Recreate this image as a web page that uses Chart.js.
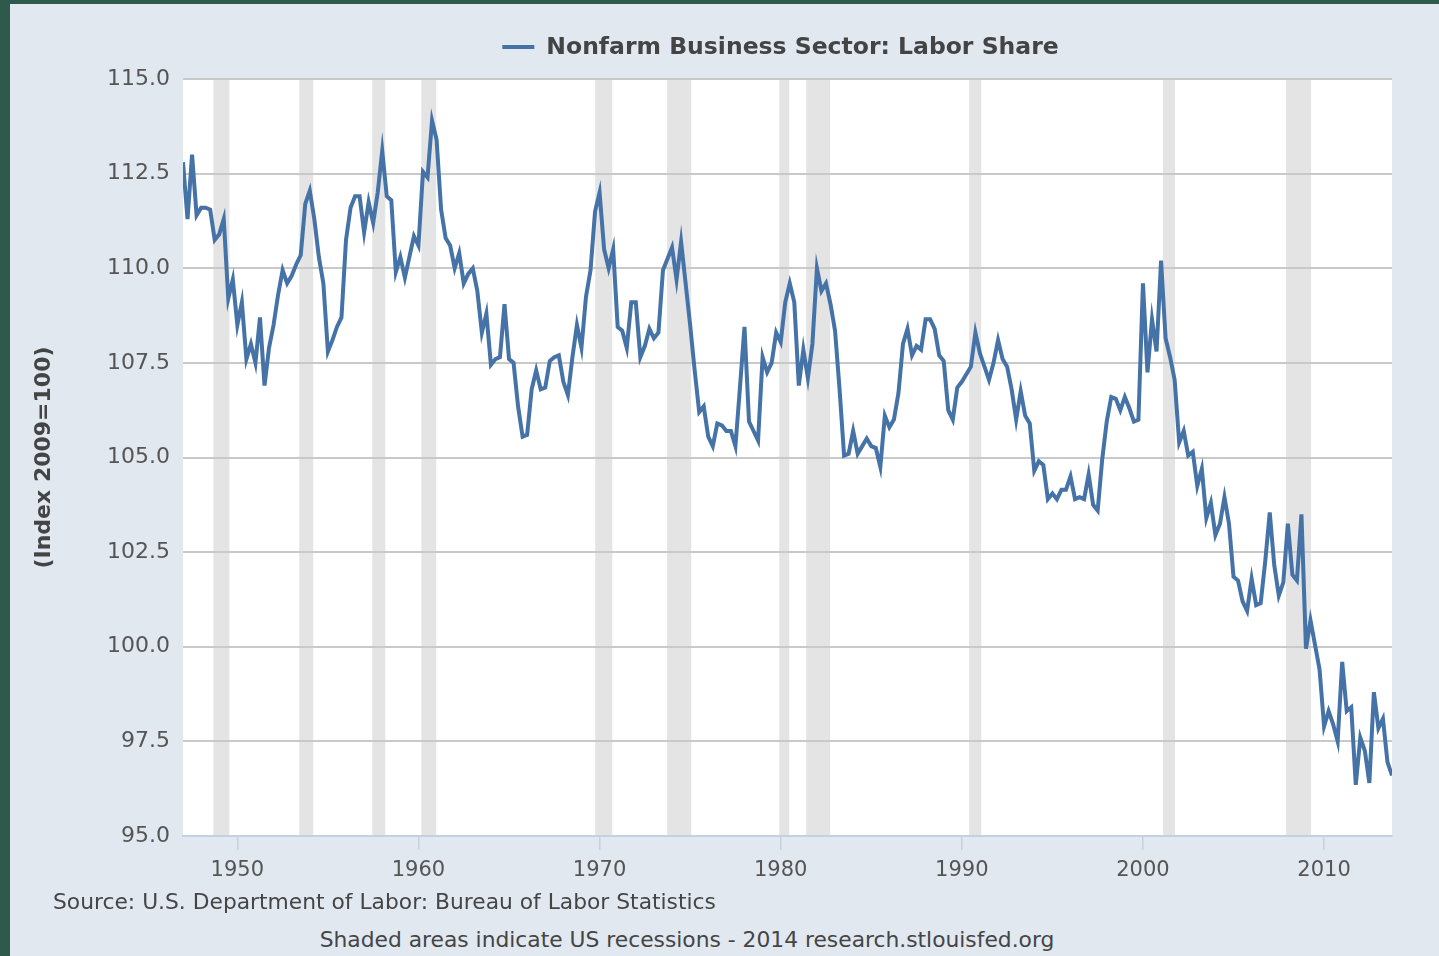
<!DOCTYPE html>
<html>
<head>
<meta charset="utf-8">
<title>Nonfarm Business Sector: Labor Share</title>
<script src="https://cdn.jsdelivr.net/npm/chart.js@4.4.1/dist/chart.umd.min.js"></script>
<style>
  html, body { margin: 0; padding: 0; }
  body { width: 1439px; height: 956px; background: #2d5a4b; overflow: hidden; position: relative; font-family: "DejaVu Sans", Verdana, sans-serif; }
  #panel { position: absolute; left: 10px; top: 4px; right: 0; bottom: 0; background: #e1e8f0; }
  #myChart { position: absolute; left: 0; top: 0; }
  .note { position: absolute; color: #454545; font-size: 21.8px; white-space: nowrap; line-height: 26px; }
  #source { left: 53px; top: 889px; }
  #shaded { left: 687px; top: 927px; transform: translateX(-50%); }
</style>
</head>
<body>
<div id="panel"></div>
<canvas id="myChart" width="1439" height="900"></canvas>
<div class="note" id="source">Source: U.S. Department of Labor: Bureau of Labor Statistics</div>
<div class="note" id="shaded">Shaded areas indicate US recessions - 2014 research.stlouisfed.org</div>
<script>
// quarterly values, first quarter 1947Q1
var firstYear = 1947;
var labor1940s = [112.8, 111.3, 113.0, 111.4, 111.6, 111.6, 111.55, 110.75, 110.9, 111.3, 109.2, 109.7];
var labor1950s = [108.5, 109.1, 107.6, 108.0, 107.5, 108.7, 106.9, 107.9, 108.5, 109.3,
    109.95, 109.6, 109.8, 110.1, 110.35, 111.7, 112.05, 111.3, 110.3, 109.6,
    107.8, 108.1, 108.45, 108.7, 110.75, 111.6, 111.9, 111.9, 110.95, 111.75,
    111.2, 112.0, 113.1, 111.9, 111.8, 109.9, 110.3, 109.75, 110.3, 110.85];
var labor1960s = [110.6, 112.55, 112.4, 113.9, 113.4, 111.55, 110.8, 110.6, 110.0, 110.4,
    109.6, 109.85, 110.0, 109.4, 108.3, 108.8, 107.45, 107.6, 107.65, 109.05,
    107.6, 107.5, 106.35, 105.55, 105.6, 106.8, 107.3, 106.8, 106.85, 107.55,
    107.65, 107.7, 107.0, 106.65, 107.65, 108.5, 107.9, 109.25, 109.95, 111.5];
var labor1970s = [112.0, 110.5, 110.0, 110.5, 108.45, 108.35, 107.9, 109.1, 109.1, 107.65,
    107.95, 108.4, 108.15, 108.3, 109.95, 110.25, 110.55, 109.7, 110.7, 109.6,
    108.5, 107.3, 106.2, 106.35, 105.55, 105.3, 105.9, 105.85, 105.7, 105.7,
    105.3, 106.85, 108.45, 105.95, 105.7, 105.45, 107.65, 107.25, 107.5, 108.3];
var labor1980s = [108.05, 109.1, 109.6, 109.1, 106.9, 107.85, 107.1, 108.0, 110.0, 109.4,
    109.6, 109.05, 108.35, 106.8, 105.05, 105.1, 105.7, 105.1, 105.3, 105.5,
    105.3, 105.25, 104.75, 106.1, 105.8, 106.0, 106.7, 108.0, 108.4, 107.7,
    107.95, 107.85, 108.65, 108.65, 108.4, 107.7, 107.55, 106.25, 106.0, 106.85];
var labor1990s = [107.0, 107.2, 107.4, 108.3, 107.75, 107.4, 107.05, 107.5, 108.1, 107.6,
    107.4, 106.8, 106.0, 106.75, 106.1, 105.9, 104.65, 104.9, 104.8, 103.9,
    104.05, 103.9, 104.15, 104.15, 104.5, 103.9, 103.95, 103.9, 104.55, 103.75,
    103.6, 104.95, 105.95, 106.6, 106.55, 106.25, 106.6, 106.3, 105.95, 106.0];
var labor2000s = [109.6, 107.25, 108.65, 107.8, 110.2, 108.15, 107.65, 107.05, 105.4, 105.7,
    105.05, 105.15, 104.25, 104.7, 103.4, 103.8, 102.95, 103.25, 103.95, 103.25,
    101.85, 101.75, 101.2, 100.95, 101.8, 101.1, 101.15, 102.25, 103.55, 102.15,
    101.35, 101.7, 103.25, 101.9, 101.75, 103.5, 99.95, 100.7, 100.05, 99.4];
var labor2010s = [97.9, 98.3, 97.95, 97.5, 99.6, 98.3, 98.4, 96.35, 97.6, 97.25,
    96.4, 98.8, 97.85, 98.1, 96.95, 96.6];

var recessionStart = [1948.68, 1953.42, 1957.45, 1960.16, 1969.76, 1973.73, 1979.92, 1981.41, 1990.40, 2001.11, 2007.90];
var recessionEnd = [1949.56, 1954.19, 1958.17, 1960.98, 1970.70, 1975.06, 1980.47, 1982.73, 1991.07, 2001.77, 2009.28];

var xTicks = [1950, 1960, 1970, 1980, 1990, 2000, 2010];
var yMin = 95, yMax = 115, yStep = 2.5;

var seriesName = 'Nonfarm Business Sector: Labor Share';
var axisTitle = '(Index 2009=100)';

var allValues = labor1940s.concat(labor1950s, labor1960s, labor1970s, labor1980s, labor1990s, labor2000s, labor2010s);
var points = allValues.map((v, i) => ({ x: firstYear + i / 4, y: v }));

var fontFamily = '"DejaVu Sans", Verdana, sans-serif';

// white plot background + recession bands, under the grid
var backdrop = {
    id: 'backdrop',
    beforeDraw(chart) {
        var ctx = chart.ctx, a = chart.chartArea, x = chart.scales.x;
        ctx.save();
        ctx.fillStyle = '#ffffff';
        ctx.fillRect(a.left, a.top, a.right - a.left, a.bottom - a.top);
        ctx.fillStyle = '#e4e4e4';
        for (var i = 0; i < recessionStart.length; i++) {
            var x1 = x.getPixelForValue(recessionStart[i]);
            var x2 = x.getPixelForValue(recessionEnd[i]);
            ctx.fillRect(x1, a.top, x2 - x1, a.bottom - a.top);
        }
        ctx.restore();
    }
};

// legend line + text centred over the plot
var topLegend = {
    id: 'topLegend',
    afterDraw(chart) {
        var ctx = chart.ctx, a = chart.chartArea;
        var ds = chart.data.datasets[0];
        ctx.save();
        ctx.font = 'bold 23.5px ' + fontFamily;
        var tw = ctx.measureText(ds.label).width;
        var total = 32 + 12 + tw;
        var left = (a.left + a.right) / 2 - 7 - total / 2;
        var y = 47;
        ctx.strokeStyle = ds.borderColor;
        ctx.lineWidth = 4;
        ctx.beginPath();
        ctx.moveTo(left, y);
        ctx.lineTo(left + 32, y);
        ctx.stroke();
        ctx.fillStyle = '#444444';
        ctx.textBaseline = 'middle';
        ctx.textAlign = 'left';
        ctx.fillText(ds.label, left + 44, y + 1);
        ctx.restore();
    }
};

var ctx = document.getElementById('myChart');
var myChart = new Chart(ctx, {
    type: 'line',
    data: {
        datasets: [{
            label: seriesName,
            data: points,
            borderColor: '#4572a7',
            borderWidth: 4,
            pointRadius: 0,
            tension: 0,
            fill: false
        }]
    },
    options: {
        responsive: false,
        animation: false,
        layout: { padding: { left: 0, right: 47, top: 79, bottom: 0 } },
        plugins: {
            legend: { display: false },
            tooltip: { enabled: false }
        },
        scales: {
            x: {
                type: 'linear',
                min: firstYear,
                max: firstYear + (allValues.length - 1) / 4,
                afterBuildTicks: scale => { scale.ticks = xTicks.map(v => ({ value: v })); },
                afterFit: scale => { scale.height = 64; },
                grid: { drawOnChartArea: false, drawTicks: true, tickLength: 14, color: '#c3d1e0', lineWidth: 1.5 },
                border: { display: true, color: '#c3d1e0', width: 2 },
                ticks: {
                    padding: 8,
                    color: '#555555',
                    font: { family: fontFamily, size: 21 },
                    maxRotation: 0,
                    callback: v => String(v)
                }
            },
            y: {
                min: yMin,
                max: yMax,
                afterFit: scale => { scale.width = 183; },
                grid: { color: '#c9c9c9', lineWidth: 2, drawTicks: false },
                border: { display: false },
                ticks: {
                    stepSize: yStep,
                    padding: 13,
                    color: '#555555',
                    font: { family: fontFamily, size: 22 },
                    callback: v => v.toFixed(1)
                },
                title: {
                    display: true,
                    text: axisTitle,
                    color: '#444444',
                    font: { family: fontFamily, size: 22, weight: 'bold' },
                    padding: { top: 31, bottom: 0 }
                }
            }
        }
    },
    plugins: [backdrop, topLegend]
});
</script>
</body>
</html>
